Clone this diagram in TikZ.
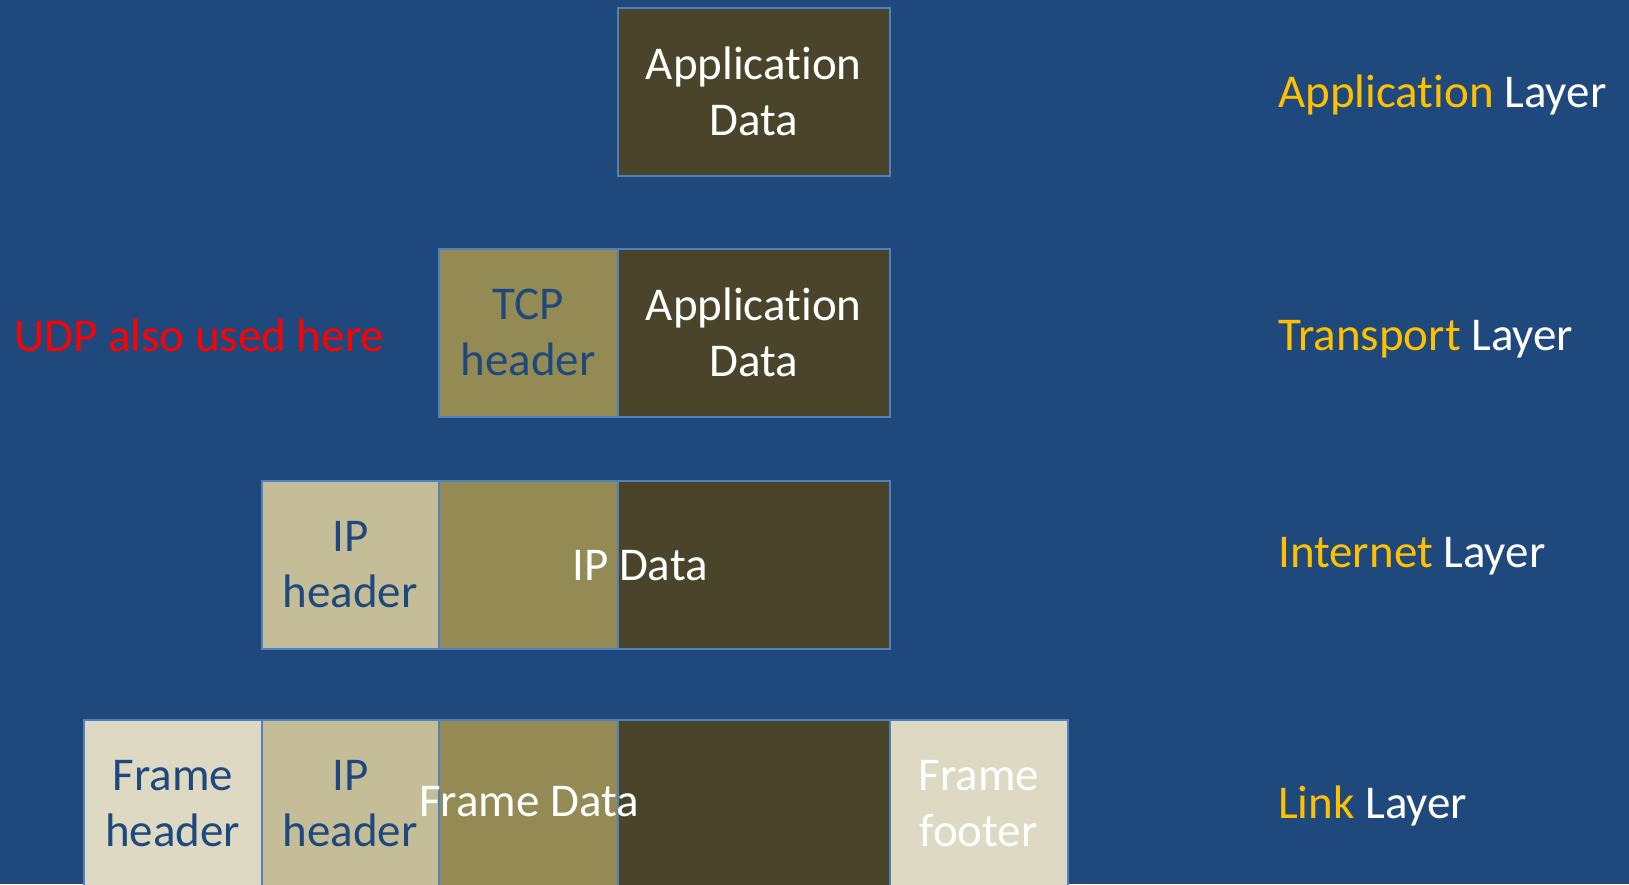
\documentclass[tikz,border=0pt]{standalone}
\usepackage{fontspec}
\setmainfont{Carlito}[RawFeature={-liga;-clig}]

\definecolor{slidebg}{HTML}{1F497D}
\definecolor{edgeblue}{HTML}{4F81BD}
\definecolor{datadark}{HTML}{4A452A}
\definecolor{tcpolive}{HTML}{948A54}
\definecolor{iptan}{HTML}{C4BD97}
\definecolor{framecream}{HTML}{DDD9C3}
\definecolor{layergold}{HTML}{FFC000}

\begin{document}
\begin{tikzpicture}[x=1pt, y=-1pt,
  pkt/.style={draw=edgeblue, line width=1.5pt, anchor=north west,
    minimum height=168pt, inner sep=0pt, align=center,
    font=\fontsize{47}{56}\selectfont},
  bigtext/.style={inner sep=0pt, font=\fontsize{47}{56}\selectfont},
  layer/.style={bigtext, anchor=west, text=white}
]

\fill[slidebg] (0,0) rectangle (1629,884);
\useasboundingbox (0,0) rectangle (1629,884);

% application layer
\node[pkt, fill=datadark, text=white, minimum width=272pt] (appdata) at (617,7) {Application\\Data};

% transport layer
\node[pkt, fill=tcpolive, text=slidebg, minimum width=179pt] (tcphdr) at (438,248) {TCP\\header};
\node[pkt, fill=datadark, text=white, minimum width=272pt] (tcpdata) at (617,248) {Application\\Data};

% internet layer
\node[pkt, fill=datadark, minimum width=272pt] (ipdark) at (617,480) {};
\node[pkt, fill=tcpolive, minimum width=179pt] (ipolive) at (438,480) {};
\node[pkt, fill=iptan, text=slidebg, minimum width=177pt] (iphdr) at (261,480) {IP\\header};
\node[bigtext, text=white] (ipdata) at (640,566) {IP Data};

% link layer
\node[pkt, fill=datadark, minimum width=272pt] (lnkdark) at (617,719) {};
\node[pkt, fill=tcpolive, minimum width=179pt] (lnkolive) at (438,719) {};
\node[pkt, fill=iptan, text=slidebg, minimum width=177pt] (lnkiphdr) at (261,719) {IP\\header};
\node[pkt, fill=framecream, text=slidebg, minimum width=178pt] (framehdr) at (83,719) {Frame\\header};
\node[pkt, fill=framecream, text=white, minimum width=178pt] (framefoot) at (889,719) {Frame\\footer};
\node[bigtext, text=white] (framedata) at (529,802) {Frame Data};

% side labels
\node[bigtext, text=red, anchor=west] (udpnote) at (14,335) {UDP also used here};
\node[layer] (applbl) at (1278,95) {\textcolor{layergold}{Application} Layer};
\node[layer] (translbl) at (1278,339) {\textcolor{layergold}{Transport} Layer};
\node[layer] (inetlbl) at (1278,556) {\textcolor{layergold}{Internet} Layer};
\node[layer] (linklbl) at (1278,806) {\textcolor{layergold}{Link} Layer};

\end{tikzpicture}
\end{document}
